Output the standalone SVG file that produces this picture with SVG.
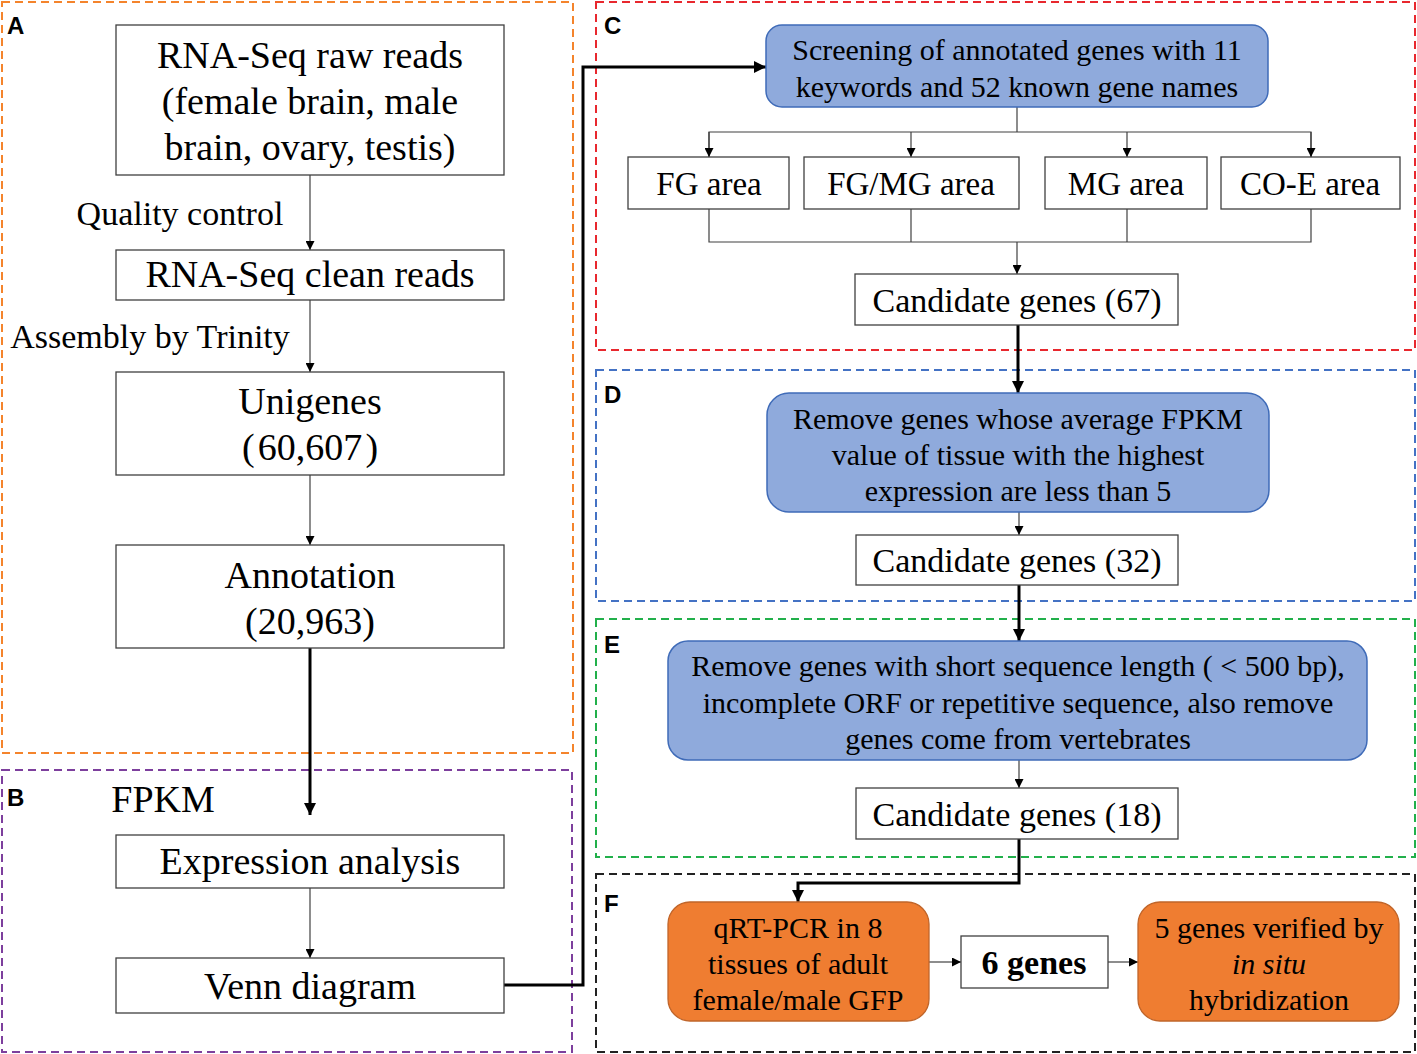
<svg xmlns="http://www.w3.org/2000/svg" width="1417" height="1054" viewBox="0 0 1417 1054">
<defs>
<style>
.t{font-family:"Liberation Serif",serif;fill:#000;text-anchor:middle}
.lab{font-family:"Liberation Sans",Arial,sans-serif;font-weight:bold;font-size:24px;fill:#000}
.box{fill:#fff;stroke:#404040;stroke-width:1.3}
.blue{fill:#8faadc;stroke:#3f6bb8;stroke-width:1.5}
.org{fill:#ef7d31;stroke:#c0652a;stroke-width:1.3}
.thin{fill:none;stroke:#404040;stroke-width:1.2}
.thick{fill:none;stroke:#000;stroke-width:3}
.pan{fill:none;stroke-width:2;stroke-dasharray:8 5}
</style>
<marker id="ah" viewBox="0 0 10 10" refX="10" refY="5" markerWidth="9" markerHeight="9" markerUnits="userSpaceOnUse" orient="auto"><path d="M0,0 L10,5 L0,10 z" fill="#000"/></marker>
<marker id="ahb" viewBox="0 0 10 10" refX="10" refY="5" markerWidth="12" markerHeight="12" markerUnits="userSpaceOnUse" orient="auto"><path d="M0,0 L10,5 L0,10 z" fill="#000"/></marker>
</defs>

<g id="panels">
<rect class="pan" x="2" y="2" width="571" height="751" stroke="#f4842c"/>
<rect class="pan" x="2" y="770" width="570" height="282" stroke="#7d3f9d"/>
<rect class="pan" x="596" y="2" width="819" height="348" stroke="#e8282e"/>
<rect class="pan" x="596" y="370" width="819" height="231" stroke="#4472c4"/>
<rect class="pan" x="596" y="619" width="819" height="238" stroke="#22b04b"/>
<rect class="pan" x="596" y="874" width="819" height="178" stroke="#222"/>
<text class="lab" x="7" y="34">A</text>
<text class="lab" x="7" y="806">B</text>
<text class="lab" x="604" y="34">C</text>
<text class="lab" x="604" y="403">D</text>
<text class="lab" x="604" y="653">E</text>
<text class="lab" x="604" y="912">F</text>
</g>

<g id="connectors">
<line class="thin" x1="310" y1="175" x2="310" y2="250" marker-end="url(#ah)"/>
<line class="thin" x1="310" y1="300" x2="310" y2="372" marker-end="url(#ah)"/>
<line class="thin" x1="310" y1="475" x2="310" y2="545" marker-end="url(#ah)"/>
<line class="thick" x1="310" y1="648" x2="310" y2="815" marker-end="url(#ahb)"/>
<line class="thin" x1="310" y1="888" x2="310" y2="958" marker-end="url(#ah)"/>
<polyline class="thick" points="504,985 583,985 583,67 766,67" marker-end="url(#ahb)"/>
<polyline class="thin" points="1017,107 1017,132"/>
<polyline class="thin" points="709,157 709,132 1311,132 1311,157"/>
<line class="thin" x1="709" y1="132" x2="709" y2="157" marker-end="url(#ah)"/>
<line class="thin" x1="911" y1="132" x2="911" y2="157" marker-end="url(#ah)"/>
<line class="thin" x1="1127" y1="132" x2="1127" y2="157" marker-end="url(#ah)"/>
<line class="thin" x1="1311" y1="132" x2="1311" y2="157" marker-end="url(#ah)"/>
<polyline class="thin" points="709,209 709,242 1311,242 1311,209"/>
<line class="thin" x1="911" y1="209" x2="911" y2="242"/>
<line class="thin" x1="1127" y1="209" x2="1127" y2="242"/>
<line class="thin" x1="1017" y1="242" x2="1017" y2="274" marker-end="url(#ah)"/>
<line class="thick" x1="1018" y1="325" x2="1018" y2="393" marker-end="url(#ahb)"/>
<line class="thin" x1="1019" y1="512" x2="1019" y2="535" marker-end="url(#ah)"/>
<line class="thick" x1="1019" y1="585" x2="1019" y2="641" marker-end="url(#ahb)"/>
<line class="thin" x1="1019" y1="760" x2="1019" y2="788" marker-end="url(#ah)"/>
<polyline class="thick" points="1019,839 1019,883 798,883 798,902" marker-end="url(#ahb)"/>
<line class="thin" x1="929" y1="962" x2="961" y2="962" marker-end="url(#ah)"/>
<line class="thin" x1="1108" y1="962" x2="1138" y2="962" marker-end="url(#ah)"/>
</g>

<g id="n1"><rect class="box" x="116" y="25" width="388" height="150"/>
<text class="t" font-size="38" x="310" y="68">RNA-Seq raw reads</text>
<text class="t" font-size="38" x="310" y="114">(female brain, male</text>
<text class="t" font-size="38" x="310" y="160">brain, ovary, testis)</text></g>
<g id="l1"><text class="t" font-size="34" x="180" y="225">Quality control</text></g>
<g id="n2"><rect class="box" x="116" y="250" width="388" height="50"/>
<text class="t" font-size="38" x="310" y="287">RNA-Seq clean reads</text></g>
<g id="l2"><text class="t" font-size="34" x="150" y="348">Assembly by Trinity</text></g>
<g id="n3"><rect class="box" x="116" y="372" width="388" height="103"/>
<text class="t" font-size="38" x="310" y="414">Unigenes</text>
<text class="t" font-size="38" x="310" y="460">(&#8202;60,607&#8202;)</text></g>
<g id="n4"><rect class="box" x="116" y="545" width="388" height="103"/>
<text class="t" font-size="38" x="310" y="588">Annotation</text>
<text class="t" font-size="38" x="310" y="634">(20,963)</text></g>
<g id="l3"><text class="t" font-size="38" x="163" y="812">FPKM</text></g>
<g id="n5"><rect class="box" x="116" y="835" width="388" height="53"/>
<text class="t" font-size="38" x="310" y="874">Expression analysis</text></g>
<g id="n6"><rect class="box" x="116" y="958" width="388" height="55"/>
<text class="t" font-size="38" x="310" y="999">Venn diagram</text></g>

<g id="c1"><rect class="blue" x="766" y="25" width="502" height="82" rx="16"/>
<text class="t" font-size="30" x="1017" y="60">Screening of annotated genes with 11</text>
<text class="t" font-size="30" x="1017" y="97">keywords and 52 known gene names</text></g>
<g id="c2"><rect class="box" x="628" y="157" width="161" height="52"/>
<text class="t" font-size="33" x="709" y="195">FG area</text></g>
<g id="c3"><rect class="box" x="804" y="157" width="215" height="52"/>
<text class="t" font-size="33" x="911" y="195">FG/MG area</text></g>
<g id="c4"><rect class="box" x="1045" y="157" width="162" height="52"/>
<text class="t" font-size="33" x="1126" y="195">MG area</text></g>
<g id="c5"><rect class="box" x="1221" y="157" width="179" height="52"/>
<text class="t" font-size="33" x="1310" y="195">CO-E area</text></g>
<g id="c6"><rect class="box" x="855" y="274" width="323" height="51"/>
<text class="t" font-size="34" x="1017" y="312">Candidate genes (67)</text></g>

<g id="d1"><rect class="blue" x="767" y="393" width="502" height="119" rx="22"/>
<text class="t" font-size="30" x="1018" y="429">Remove genes whose average FPKM</text>
<text class="t" font-size="30" x="1018" y="465">value of tissue with the highest</text>
<text class="t" font-size="30" x="1018" y="501">expression are less than 5</text></g>
<g id="d2"><rect class="box" x="856" y="535" width="322" height="50"/>
<text class="t" font-size="34" x="1017" y="572">Candidate genes (32)</text></g>

<g id="e1"><rect class="blue" x="668" y="641" width="699" height="119" rx="20"/>
<text class="t" font-size="30" x="1018" y="676">Remove genes with short sequence length ( &lt; 500 bp),</text>
<text class="t" font-size="30" x="1018" y="713">incomplete ORF or repetitive sequence, also remove</text>
<text class="t" font-size="30" x="1018" y="749">genes come from vertebrates</text></g>
<g id="e2"><rect class="box" x="856" y="788" width="322" height="51"/>
<text class="t" font-size="34" x="1017" y="826">Candidate genes (18)</text></g>

<g id="f1"><rect class="org" x="668" y="902" width="261" height="119" rx="22"/>
<text class="t" font-size="30" x="798" y="938">qRT-PCR in 8</text>
<text class="t" font-size="30" x="798" y="974">tissues of adult</text>
<text class="t" font-size="30" x="798" y="1010">female/male GFP</text></g>
<g id="f2"><rect class="box" x="961" y="936" width="147" height="52"/>
<text class="t" font-size="34" font-weight="bold" x="1034" y="974">6 genes</text></g>
<g id="f3"><rect class="org" x="1138" y="902" width="261" height="119" rx="22"/>
<text class="t" font-size="30" x="1269" y="938">5 genes verified by</text>
<text class="t" font-size="30" font-style="italic" x="1269" y="974">in situ</text>
<text class="t" font-size="30" x="1269" y="1010">hybridization</text></g>
</svg>
